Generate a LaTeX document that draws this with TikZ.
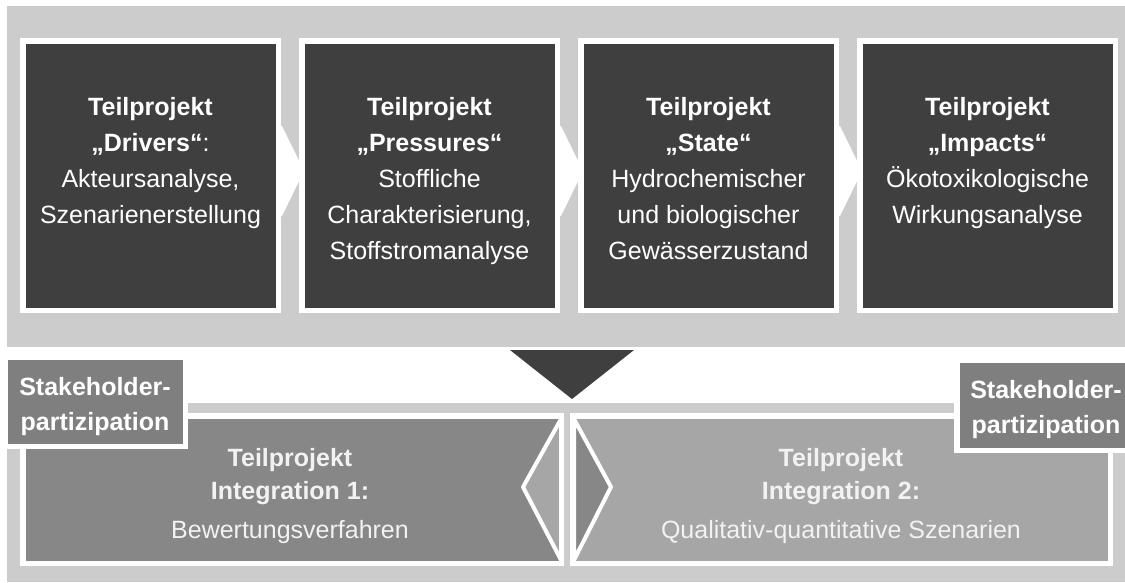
\documentclass[tikz,border=0pt]{standalone}
\usepackage{fontspec}
\setmainfont{Liberation Sans}
\usepackage{xcolor}
\usetikzlibrary{calc}

\definecolor{bandgray}{HTML}{CCCCCC}
\definecolor{boxdark}{HTML}{3F3F3F}
\definecolor{stakegray}{HTML}{7F7F7F}
\definecolor{intdark}{HTML}{878787}
\definecolor{intlight}{HTML}{A6A6A6}

\begin{document}
\begin{tikzpicture}[x=1pt, y=-1pt,
  tp box/.style={draw=white, line width=5.5pt, fill=boxdark, inner sep=0pt, minimum width=255.5pt, minimum height=269.5pt},
  tp text/.style={anchor=north, inner sep=0pt, align=center, text=white, font=\fontsize{25}{36}\selectfont},
  int box/.style={draw=white, line width=5.5pt, inner sep=0pt, minimum height=147.5pt},
  int text/.style={anchor=north, inner sep=0pt, align=center, text=white!95!black, font=\fontsize{25}{33}\selectfont},
  stake box/.style={draw=white, line width=5.5pt, fill=stakegray, inner sep=0pt},
  stake text/.style={anchor=north, inner sep=0pt, align=center, text=white, font=\bfseries\fontsize{25}{35}\selectfont},
  pointer/.style={fill=white},
]
\useasboundingbox (0,0) rectangle (1125,582);
\fill[white] (0,0) rectangle (1125,582);

% Teilprojekte oben
\fill[bandgray] (7,6) rectangle (1125,347);
\foreach \xr in {281,560,839}
  \fill[pointer] (\xr-20,126) -- (\xr+1,126) -- (\xr+23,171) -- (\xr+1,216) -- (\xr-20,216) -- cycle;

\node[tp box] (drivers) at (150.5,175.5) {};
\node[tp box] (pressures) at (429.5,175.5) {};
\node[tp box] (state) at (708.5,175.5) {};
\node[tp box] (impacts) at (987.5,175.5) {};

\node[tp text] (driverstxt) at (150.5,97) {\textbf{Teilprojekt}\\\textbf{„Drivers“}:\\Akteursanalyse,\\Szenarienerstellung};
\node[tp text] (pressurestxt) at (429.5,97) {\textbf{Teilprojekt}\\\textbf{„Pressures“}\\Stoffliche\\Charakterisierung,\\Stoffstromanalyse};
\node[tp text] (statetxt) at (708.5,97) {\textbf{Teilprojekt}\\\textbf{„State“}\\Hydrochemischer\\und biologischer\\Gewässerzustand};
\node[tp text] (impactstxt) at (987.5,97) {\textbf{Teilprojekt}\\\textbf{„Impacts“}\\Ökotoxikologische\\Wirkungsanalyse};

% Pfeil nach unten
\fill[boxdark] (510,350) -- (634,350) -- (572,399) -- cycle;

% Integration unten
\fill[bandgray] (7,403) rectangle (1125,582);
\node[int box, fill=intdark, minimum width=538.5pt] (integ1) at (292,489.5) {};
\node[int box, fill=intlight, minimum width=537.5pt] (integ2) at (841.5,489.5) {};

\filldraw[fill=intlight, draw=white, line width=4pt, line join=round] (561,419) -- (523,487) -- (561,560) -- cycle;
\filldraw[fill=intdark, draw=white, line width=4pt, line join=round] (574,419) -- (611,487) -- (574,560) -- cycle;

\node[int text] (integ1txt) at (290,448) {\textbf{Teilprojekt}\\\textbf{Integration 1:}\\[6pt]Bewertungsverfahren};
\node[int text] (integ2txt) at (841,448) {\textbf{Teilprojekt}\\\textbf{Integration 2:}\\[6pt]Qualitativ-quantitative Szenarien};

% Stakeholder
\node[stake box, minimum width=180.5pt, minimum height=89.5pt] (stakeL) at (95,401.5) {};
\node[stake box, minimum width=171.5pt, minimum height=90.5pt] (stakeR) at (1042.5,405) {};
\node[stake text] (stakeLtxt) at (95,377) {Stakeholder-\\partizipation};
\node[stake text] (stakeRtxt) at (1046,380) {Stakeholder-\\partizipation};

\end{tikzpicture}
\end{document}
